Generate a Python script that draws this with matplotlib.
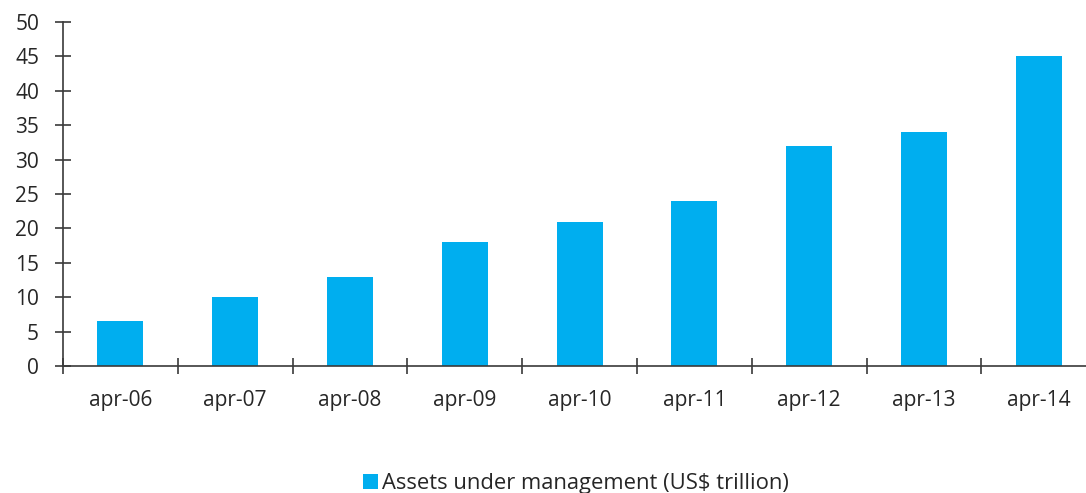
import matplotlib
matplotlib.use("Agg")
import matplotlib.pyplot as plt
from matplotlib.patches import Patch
import numpy as np

categories = ["apr-06", "apr-07", "apr-08", "apr-09", "apr-10", "apr-11", "apr-12", "apr-13", "apr-14"]
values = [6.5, 10, 13, 18, 21, 24, 32, 34, 45]
yticks = [0, 5, 10, 15, 20, 25, 30, 35, 40, 45, 50]
series_label = "Assets under management (US\\$ trillion)"

bar_color = "#00AEEF"
axis_color = "#3a3a3a"
text_color = "#262626"

plt.rcParams['font.family'] = ['Open Sans', 'DejaVu Sans']

W, H = 1086, 493
fig = plt.figure(figsize=(W / 100, H / 100), dpi=100)
left = 63 / W
bottom = (H - 366) / H
height = 344 / H
width = 9 * 114.8 / W
ax = fig.add_axes([left, bottom, width, height])

x = np.arange(len(categories))
ax.bar(x, values, width=0.4, color=bar_color, zorder=2)

ax.set_xlim(-0.5, len(categories) - 0.5)
ax.set_ylim(0, 50)
ax.set_yticks(yticks)
ax.set_yticklabels([str(v) for v in yticks])

ax.set_xticks(x)
ax.set_xticklabels(categories)
ax.set_xticks(np.arange(len(categories) + 1) - 0.5, minor=True)

for s in ["top", "right"]:
    ax.spines[s].set_visible(False)
for s in ["left", "bottom"]:
    ax.spines[s].set_color(axis_color)
    ax.spines[s].set_linewidth(1.2)
ax.spines["bottom"].set_clip_on(False)

ax.tick_params(axis="y", direction="inout", length=11.5, width=1.2, color=axis_color,
               labelsize=15, labelcolor=text_color, pad=11.5)
ax.tick_params(axis="x", which="major", length=0, labelsize=15, labelcolor=text_color, pad=17)
ax.tick_params(axis="x", which="minor", direction="inout", length=11.5, width=1.2, color=axis_color)

handle = Patch(facecolor=bar_color, edgecolor="none")
fig.legend([handle], [series_label], loc="center", bbox_to_anchor=(576 / W, 1 - 484 / H),
           frameon=False, fontsize=15.8, handlelength=0.68, handleheight=0.68,
           handletextpad=0.15, labelcolor=text_color, borderpad=0)

fig.savefig("out.png", dpi=100)
